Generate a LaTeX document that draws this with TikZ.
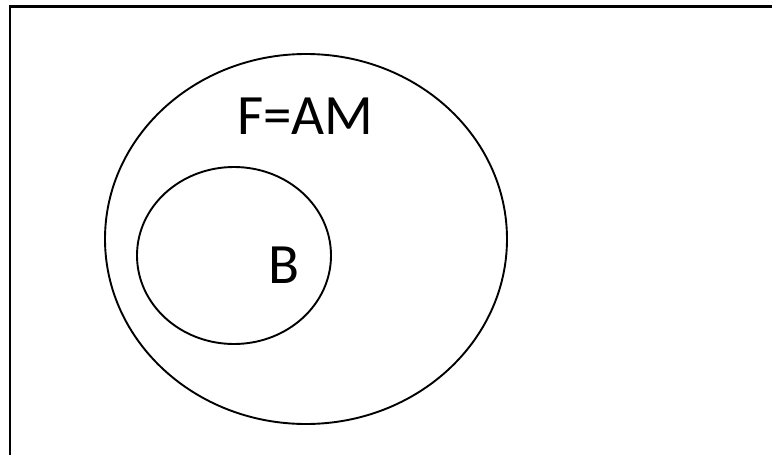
\documentclass[tikz,border=0pt]{standalone}
\usepackage{fontspec}
\setmainfont{Carlito}
\usetikzlibrary{shapes.geometric}
\begin{document}
\begin{tikzpicture}[x=1pt,y=-1pt,
  setshape/.style={ellipse,draw,line width=1.9pt,inner sep=0pt,outer sep=0pt},
  lbl/.style={font=\fontsize{57}{60}\selectfont,inner sep=0pt,anchor=base}]
\useasboundingbox (0,0) rectangle (772,455);
\fill[white] (0,0) rectangle (772,455);
\draw[line width=2.2pt] (10,455) -- (10,6.5) -- (772,6.5);
\node[setshape,minimum width=402pt,minimum height=370pt] (F) at (306,239) {};
\node[setshape,minimum width=194pt,minimum height=177pt] (Bset) at (234,255.5) {};
\node[lbl] (fam) at (305.5,134) {F=AM};
\node[lbl] (b) at (284,283) {B};
\end{tikzpicture}
\end{document}
